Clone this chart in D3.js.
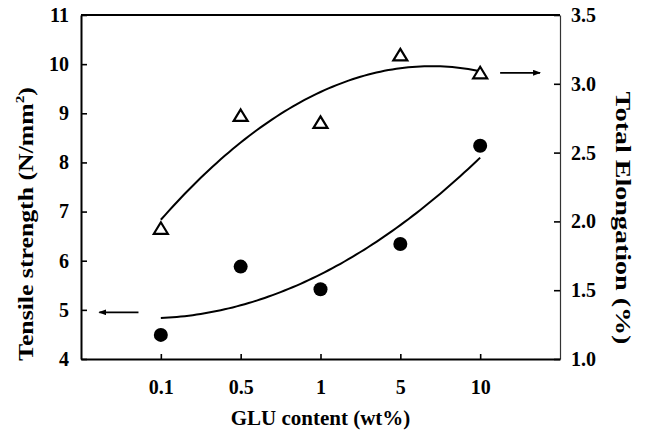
<!DOCTYPE html>
<html>
<head>
<meta charset="utf-8">
<script src="https://cdn.jsdelivr.net/npm/d3@7"></script>
<style>
  body { margin: 0; background: #fff; }
  text { font-family: "Liberation Serif", "Times New Roman", serif; font-weight: bold; }
</style>
</head>
<body>
<svg width="645" height="435"></svg>
<script>
const categories = ['0.1', '0.5', '1', '5', '10'];
const tensile = [4.49, 5.88, 5.42, 6.34, 8.34];      // left axis, filled circles
const elongation = [1.95, 2.77, 2.72, 3.21, 3.08];   // right axis, open triangles
const leftTicks = [4, 5, 6, 7, 8, 9, 10, 11];
const rightTicks = [1.0, 1.5, 2.0, 2.5, 3.0, 3.5];

const svg = d3.select('svg');
const margin = { top: 15, right: 85, bottom: 76, left: 81 };
const width = +svg.attr('width');
const height = +svg.attr('height');
const w = width - margin.left - margin.right;
const h = height - margin.top - margin.bottom;

const g = svg.append('g').attr('transform', `translate(${margin.left},${margin.top})`);

// categories sit on equally spaced slots 1..5, with an empty slot each side
const x = d3.scaleLinear().domain([0, categories.length + 1]).range([0, w]);
const yL = d3.scaleLinear().domain([4, 11]).range([h, 0]);
const yR = d3.scaleLinear().domain([1, 3.5]).range([h, 0]);

// 2nd order polynomial trendline (least squares on slot index)
function quadFit(ys) {
  const xs = ys.map((d, i) => i + 1);
  const mx = d3.mean(xs);
  const t = xs.map(v => v - mx);
  const t2m = d3.mean(t, v => v * v);
  const u = t.map(v => v * v - t2m);
  const b = d3.sum(t, (v, i) => v * ys[i]) / d3.sum(t, v => v * v);
  const c = d3.sum(u, (v, i) => v * ys[i]) / d3.sum(u, v => v * v);
  const a = d3.mean(ys) - c * t2m;
  return xv => a + b * (xv - mx) + c * (xv - mx) * (xv - mx);
}
const samples = d3.range(1, categories.length + 0.001, 0.05);

const fitL = quadFit(tensile);
const fitR = quadFit(elongation);
const line = d3.line();

g.append('path')
  .attr('d', line(samples.map(s => [x(s), yL(fitL(s))])))
  .attr('fill', 'none').attr('stroke', '#000').attr('stroke-width', 2);
g.append('path')
  .attr('d', line(samples.map(s => [x(s), yR(fitR(s))])))
  .attr('fill', 'none').attr('stroke', '#000').attr('stroke-width', 2);

// axes
const axL = g.append('g')
  .call(d3.axisLeft(yL).tickValues(leftTicks).tickFormat(d3.format('d'))
    .tickSizeInner(-6).tickSizeOuter(0).tickPadding(12));
const axR = g.append('g').attr('transform', `translate(${w},0)`)
  .call(d3.axisRight(yR).tickValues(rightTicks).tickFormat(d3.format('.1f'))
    .tickSizeInner(-6).tickSizeOuter(0).tickPadding(11));
const axB = g.append('g').attr('transform', `translate(0,${h})`)
  .call(d3.axisBottom(x).tickValues(categories.map((d, i) => i + 1))
    .tickFormat(i => categories[i - 1]).tickSizeInner(-5).tickSizeOuter(0).tickPadding(21));

[axL, axR, axB].forEach(a => {
  a.selectAll('text').attr('font-size', 20).attr('fill', '#000')
    .style('font-family', '"Liberation Serif", serif').style('font-weight', 'bold');
  a.selectAll('line').attr('stroke', '#000').attr('stroke-width', 1.6);
});
axL.select('.domain').attr('stroke', '#000').attr('stroke-width', 2);
axB.select('.domain').attr('stroke', '#000').attr('stroke-width', 2);
axR.select('.domain').attr('stroke', '#333').attr('stroke-width', 1.2);

g.append('line').attr('x1', 0).attr('x2', w).attr('y1', 0).attr('y2', 0)
  .attr('stroke', '#000').attr('stroke-width', 2);

// markers
g.selectAll('.dot').data(tensile).enter().append('circle')
  .attr('class', 'dot')
  .attr('cx', (d, i) => x(i + 1)).attr('cy', d => yL(d)).attr('r', 7)
  .attr('fill', '#000');

g.selectAll('.tri').data(elongation).enter().append('path')
  .attr('class', 'tri')
  .attr('transform', (d, i) => `translate(${x(i + 1)},${yR(d)})`)
  .attr('d', 'M0,-6 L7,5.5 L-7,5.5 Z')
  .attr('fill', '#fff').attr('stroke', '#000').attr('stroke-width', 2.2);

// axis pointer arrows
svg.append('defs').append('marker')
  .attr('id', 'head').attr('viewBox', '0 0 8 6').attr('refX', 7).attr('refY', 3)
  .attr('markerWidth', 8).attr('markerHeight', 6).attr('markerUnits', 'userSpaceOnUse')
  .attr('orient', 'auto')
  .append('path').attr('d', 'M0,0 L8,3 L0,6 Z').attr('fill', '#000');

g.append('line')
  .attr('x1', x(0.72)).attr('x2', x(0.23)).attr('y1', yL(4.95)).attr('y2', yL(4.95))
  .attr('stroke', '#000').attr('stroke-width', 1.8).attr('marker-end', 'url(#head)');
g.append('line')
  .attr('x1', x(5.25)).attr('x2', x(5.75)).attr('y1', yR(3.08)).attr('y2', yR(3.08))
  .attr('stroke', '#000').attr('stroke-width', 1.8).attr('marker-end', 'url(#head)');

// titles
svg.append('text')
  .attr('x', margin.left + w / 2).attr('y', 425)
  .attr('text-anchor', 'middle').attr('font-size', 21)
  .text('GLU content (wt%)');

// the source figure's rotated titles are stretched along their length
function stretch(sel, target) {
  const len = sel.node().getComputedTextLength();
  return target / len;
}

const lt = svg.append('text')
  .attr('text-anchor', 'middle').attr('font-size', 22);
lt.append('tspan').text('Tensile strength (N/mm');
lt.append('tspan').attr('font-size', 13).attr('dy', -9).text('2');
lt.append('tspan').attr('dy', 9).text(')');
lt.attr('transform', `translate(33,224) rotate(-90) scale(${stretch(lt, 274)},1)`);

const rt = svg.append('text')
  .attr('text-anchor', 'middle').attr('font-size', 22)
  .text('Total Elongation (%)');
rt.attr('transform', `translate(616,218) rotate(90) scale(${stretch(rt, 253)},1)`);
</script>
</body>
</html>
